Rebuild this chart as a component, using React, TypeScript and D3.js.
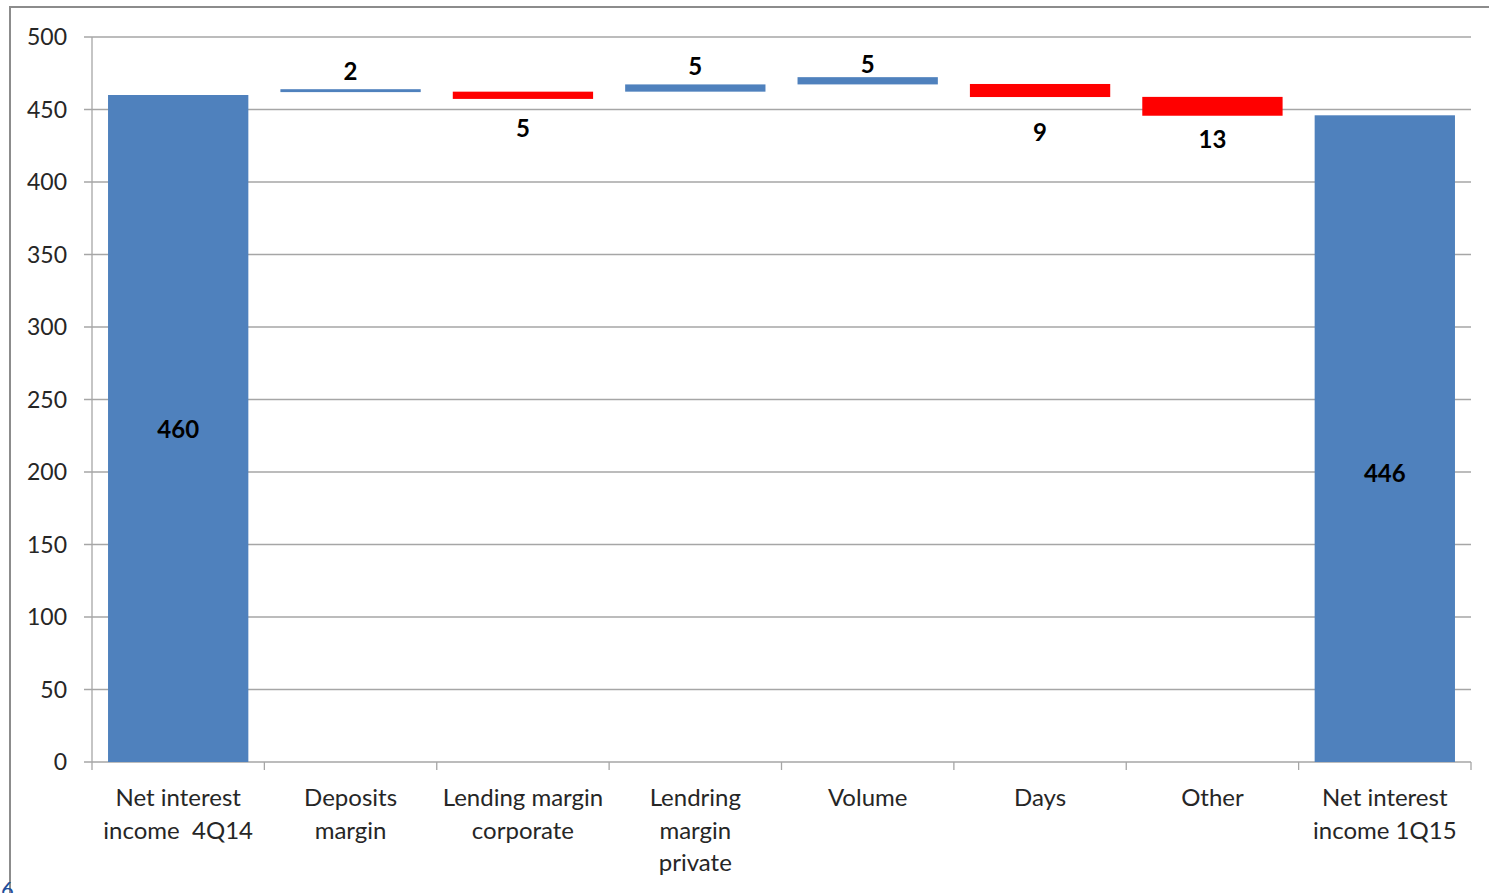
import React from "react";
import * as d3 from "d3";

// Waterfall: net interest income bridge 4Q14 -> 1Q15
const categories = [
  ["Net interest", "income  4Q14"],
  ["Deposits", "margin"],
  ["Lending margin", "corporate"],
  ["Lendring", "margin", "private"],
  ["Volume"],
  ["Days"],
  ["Other"],
  ["Net interest", "income 1Q15"],
];
// step size shown on each bar
const values = [460, 2, -5, 5, 5, -9, -13, 446];
// level each bar starts from (0 for the totals)
const bases = [0, 462, 462.3, 462.3, 467.3, 467.6, 458.7, 0];
const isTotal = [true, false, false, false, false, false, false, true];
const yTicks = [0, 50, 100, 150, 200, 250, 300, 350, 400, 450, 500];

const W = 1489;
const H = 893;
const plot = { left: 92, right: 1471, top: 37, bottom: 762 };
const BLUE = "#4f81bd";
const RED = "#ff0000";
const FONT = "Lato, 'Open Sans', sans-serif";
// per-label vertical nudges (px) for the value labels
const labelNudge = [0, 0, -1, 0, 5, 5, -7, 0];

export default function App() {
  const x = d3
    .scaleBand<number>()
    .domain(d3.range(categories.length))
    .range([plot.left, plot.right])
    .paddingInner(0.186)
    .paddingOuter(0.093);
  const y = d3.scaleLinear().domain([0, 500]).range([plot.bottom, plot.top]);
  const step = (plot.right - plot.left) / categories.length;

  return (
    <svg
      width={W}
      height={H}
      style={{ position: "absolute", left: 0, top: 0, background: "#fff" }}
      fontFamily={FONT}
    >
      {/* frame */}
      <path d={`M10,${H} V7 H${W}`} fill="none" stroke="#8c8c8c" strokeWidth={2} />

      {/* gridlines */}
      {yTicks.map((t) => (
        <line
          key={t}
          x1={plot.left - 8}
          x2={plot.right}
          y1={y(t)}
          y2={y(t)}
          stroke="#a6a6a6"
          strokeWidth={1.3}
        />
      ))}
      {/* y axis */}
      <line x1={plot.left} x2={plot.left} y1={plot.top} y2={plot.bottom} stroke="#a6a6a6" strokeWidth={1.3} />
      {yTicks.map((t) => (
        <text
          key={t}
          x={67}
          y={y(t)}
          dy="0.35em"
          textAnchor="end"
          fontSize={23}
          fill="#262626"
        >
          {t}
        </text>
      ))}

      {/* x axis ticks */}
      {d3.range(categories.length + 1).map((i) => (
        <line
          key={i}
          x1={plot.left + i * step}
          x2={plot.left + i * step}
          y1={plot.bottom}
          y2={plot.bottom + 8}
          stroke="#a6a6a6"
          strokeWidth={1.3}
        />
      ))}

      {/* bars */}
      {values.map((v, i) => {
        const lo = bases[i] + Math.min(0, v);
        const hi = bases[i] + Math.max(0, v);
        const color = v < 0 ? RED : BLUE;
        return (
          <rect
            key={i}
            x={x(i)!}
            width={x.bandwidth()}
            y={y(hi)}
            height={y(lo) - y(hi)}
            fill={color}
          />
        );
      })}

      {/* value labels */}
      {values.map((v, i) => {
        const cx = x(i)! + x.bandwidth() / 2;
        let ly: number;
        if (isTotal[i]) {
          ly = (y(v) + y(0)) / 2 + (i === values.length - 1 ? 43 : 9);
        } else if (v >= 0) {
          ly = y(bases[i] + v) - 9;
        } else {
          ly = y(bases[i] + v) + 39;
        }
        return (
          <text
            key={i}
            x={cx}
            y={ly + labelNudge[i]}
            textAnchor="middle"
            fontSize={24}
            fontWeight="bold"
            fill="#000"
          >
            {Math.abs(v)}
          </text>
        );
      })}

      {/* category labels */}
      {categories.map((lines, i) => {
        const cx = x(i)! + x.bandwidth() / 2;
        return (
          <text key={i} textAnchor="middle" fontSize={24} fill="#262626">
            {lines.map((ln, j) => (
              <tspan key={j} x={cx} y={806 + j * 32.5} style={{ whiteSpace: "pre" }}>
                {ln}
              </tspan>
            ))}
          </text>
        );
      })}

      {/* slide page number peeking at the corner */}
      <text x={1} y={897} fontSize={22} fill="#1f4e9a">
        6
      </text>
    </svg>
  );
}
